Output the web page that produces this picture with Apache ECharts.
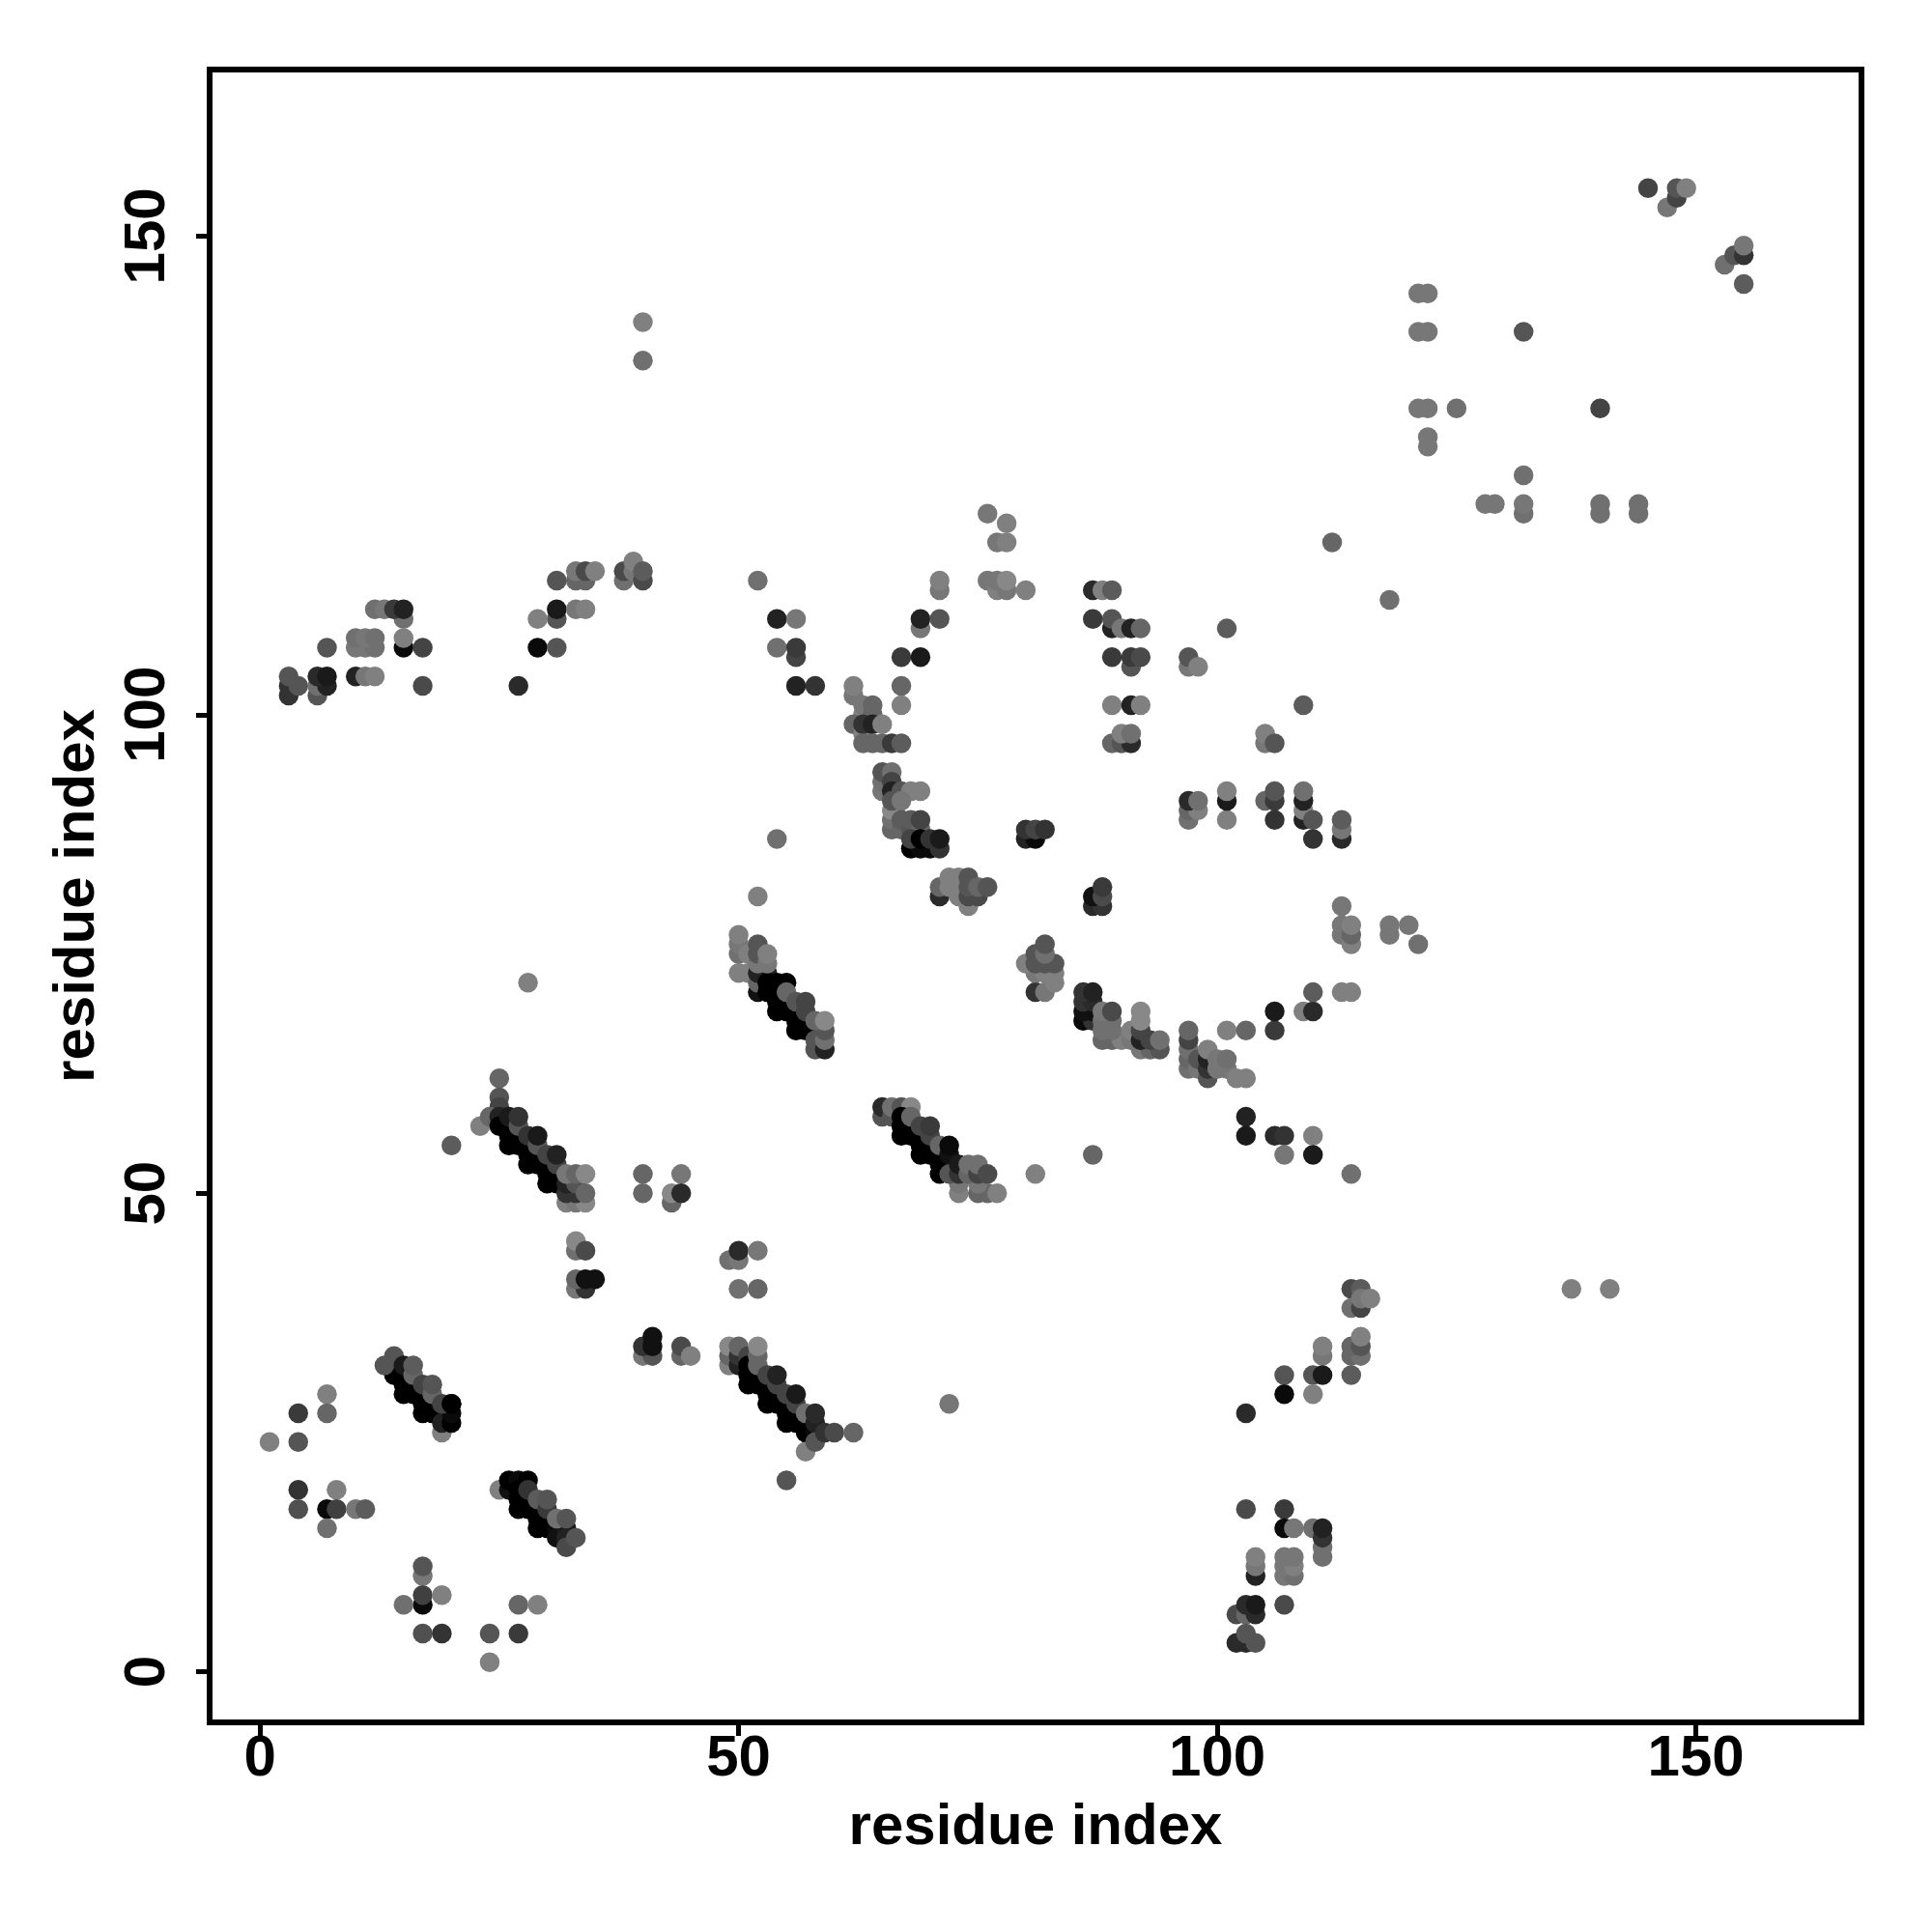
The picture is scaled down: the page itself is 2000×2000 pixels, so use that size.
<!DOCTYPE html>
<html><head><meta charset="utf-8">
<style>html,body{margin:0;padding:0;background:#fff}#c{width:2000px;height:2000px}</style>
<script src="https://cdn.jsdelivr.net/npm/echarts@6/dist/echarts.min.js"></script>
</head><body><div id="c"></div>
<script>
const tickValues = [0, 50, 100, 150];
const axisTitle = 'residue index';
// each contact: [residue i, residue j, grey level]
const lowerLeft = [[7,29,128],[4,27,58],[7,27,102],[1,24,128],[4,24,85],[4,19,51],[8,19,128],[4,17,80],[7,17,10],[8,17,64],[10,17,119],[11,17,92],[7,15,112],
[17,10,119],[17,11,85],[17,7,10],[17,8,64],[19,8,128],[15,7,112],[17,4,80],[19,4,51],[24,4,85],[27,4,58],[24,1,128],[27,7,102],[29,7,128]];
const band1 = [[19,25,128],[14,32,34],[14,31,0],[15,31,0],[15,30,0],[15,29,0],[16,30,0],[16,29,0],[17,29,0],[17,28,0],[17,27,0],[18,28,0],[18,27,0],[19,27,0],[19,26,34],[20,26,0],[20,27,10],[20,28,0],
[13,32,85],[14,33,85],[15,32,26],[16,31,102],[16,32,92],[17,30,68],[18,29,102],[18,30,85],[19,28,68],[20,28,0]];
const band2 = [[25,19,128],[26,19,17],[26,20,0],[27,20,10],[28,20,0],[27,19,0],[27,18,0],[27,17,0],[28,18,0],[28,17,0],[29,17,0],[29,16,0],[29,15,0],[30,16,0],[30,15,0],[31,15,10],[31,14,17],[32,15,26],[32,14,34],
[28,19,51],[29,18,92],[30,17,58],[30,18,85],[31,16,112],[32,13,74],[32,16,85],[33,14,85]];
const band3 = [[25,62,102],[25,60,85],[25,59,68],[23,57,128],[24,58,102],[25,58,34],[25,57,0],[26,57,0],[26,56,0],[26,55,0],[27,56,0],[27,55,0],[28,55,0],[28,54,0],[28,53,0],[29,54,0],[29,53,0],[30,53,0],[30,52,0],[30,51,0],[31,52,0],[31,51,0],
[26,58,26],[27,57,85],[27,58,51],[28,56,51],[29,55,85],[29,56,26],[30,54,68],[31,53,68],[31,54,34],[32,49,128],[33,49,119],[34,49,136],[32,50,51],[33,50,51],[32,51,34],[33,51,85],[32,52,119],[33,52,102],[34,52,136],[34,50,102]];
const midLeft = [[20,55,92],[40,52,102],[40,50,102],[44,52,119],[43,49,102],[43,50,136],[44,50,42],[33,44,112],[33,45,136],[34,44,74],[33,40,119],[34,40,51],[33,41,102],[34,41,17],[35,41,17],
[49,43,112],[50,43,119],[50,44,42],[52,44,119],[50,40,112],[52,40,102],[40,33,119],[41,33,85],[40,34,51],[41,34,17],[41,35,17],[44,33,102],[44,34,74],[45,33,128]];
const band4 = [[49,32,128],[49,33,102],[49,34,136],[50,32,34],[50,33,51],[50,34,102],[51,33,68],[51,32,0],[51,31,0],[51,30,0],[52,31,0],[52,30,0],[53,30,0],[53,29,0],[53,28,0],[54,29,0],[54,28,0],[55,28,0],[55,27,0],[55,26,0],[56,27,0],[56,26,0],[57,26,0],[57,25,0],[58,25,10],
[52,32,102],[52,33,102],[52,34,136],[53,31,68],[54,30,68],[54,31,34],[55,29,68],[56,28,68],[56,29,26],[57,27,112],[58,26,34],[58,27,42],[57,23,128],[58,24,85],[59,25,51],[60,25,74],[62,25,102],[55,20,85],[72,28,119]];
const band5 = [[52,81,128],[50,73,128],[50,75,112],[50,76,119],[50,77,128],[51,73,128],[51,75,128],[52,71,17],[52,72,102],[52,73,34],[53,73,34],[53,72,0],[54,72,0],[55,72,0],[53,71,0],[54,71,0],[54,70,0],[54,69,0],[55,70,0],[55,69,0],[56,69,0],[56,68,0],[56,67,0],[57,68,0],[57,67,0],[58,67,0],
[52,74,119],[52,75,85],[52,76,85],[53,74,119],[53,75,128],[55,71,102],[56,70,85],[57,69,68],[57,70,68],[58,65,85],[58,66,85],[59,65,34],[59,66,112],[59,67,85],[58,68,102],[59,68,136]];
const band6 = [[65,58,85],[65,59,42],[66,58,85],[66,59,112],[67,59,85],[68,59,136],[67,58,0],[67,57,0],[67,56,0],[68,57,0],[68,56,0],[69,56,0],[69,55,0],[69,54,0],[70,55,0],[70,54,0],[71,54,0],[71,53,0],[71,52,0],[72,53,0],
[68,58,102],[69,57,68],[70,56,68],[70,57,58],[71,55,102],[72,54,17],[72,55,10],[73,50,128],[73,51,119],[75,50,102],[76,50,102],[77,50,128],[75,51,119],[72,52,85],[73,52,51],[73,53,26],[74,52,102],[74,53,112],[75,52,68],[75,53,112],[76,52,74],[81,52,128],[87,54,102]];
const topLeft = [[3,102,51],[3,103,51],[3,104,85],[4,103,85],[6,102,85],[6,103,112],[7,103,34],[6,104,42],[7,104,26],[7,107,85],[10,104,34],[11,104,119],[12,104,128],
[10,107,119],[11,107,119],[12,107,112],[10,108,112],[11,108,119],[12,108,112],[15,110,112],[12,111,112],[13,111,119],[14,111,58],[15,111,34],[15,107,10],[15,108,128],[17,107,68],[17,103,74],
[27,103,42],[29,107,10],[31,107,85],[31,110,85],[29,110,128],[31,111,26],[33,111,119],[34,111,128],[31,114,85],[33,114,102],[34,114,102],[33,115,119],[34,115,74],[35,115,128],
[38,114,112],[38,115,74],[39,115,119],[39,116,128],[40,114,74],[40,115,92],[40,137,112],[40,141,128],[28,72,128]];
const upperMid = [[52,114,112],[54,107,112],[54,110,34],[56,110,119],[56,106,68],[56,107,58],[56,103,34],[58,103,51],[54,87,112],
[67,106,58],[69,106,26],[69,109,119],[69,110,34],[71,110,85],[71,113,119],[71,114,128],[67,103,102],[67,101,128],
[76,121,119],[78,120,128],[77,118,119],[78,118,128],[76,114,119],[77,113,128],[77,114,119],[78,113,119],[78,114,136],[80,113,128]];
const strand = [[62,102,119],[62,103,128],[63,100,128],[63,101,119],[64,100,102],[64,101,102],[62,99,102],[63,98,128],[63,99,51],[64,99,34],[65,99,128],[63,97,102],[64,97,102],[65,97,102],[66,97,58],[67,97,92],
[65,92,119],[65,93,112],[65,94,85],[66,94,112],[66,93,68],[66,92,34],[67,92,85],[68,92,128],[69,92,128],[66,88,102],[66,89,112],[66,90,136],[66,91,85],[67,91,119],[67,88,102],[67,89,92],[68,88,85],[68,89,92],[69,88,102],[69,89,68],
[68,86,0],[69,86,10],[70,86,10],[71,86,51],[68,87,68],[69,87,0],[70,87,51],[71,87,26],
[71,81,42],[71,82,102],[72,82,128],[72,83,128],[73,81,128],[73,82,128],[73,83,128],[74,80,128],[74,81,74],[75,81,74],[74,82,85],[74,83,85],[75,82,102],[76,82,85],
[80,87,34],[81,87,10],[80,88,51],[81,88,68],[82,88,51],[87,80,42],[88,80,51],[87,81,17],[88,81,74],[88,82,58]];
const middle = [[81,71,51],[82,71,119],[83,72,128],[81,73,119],[82,73,128],[83,73,128],[80,74,128],[81,74,85],[82,74,85],[83,74,85],[81,75,85],[82,75,112],[82,76,85],
[86,68,10],[87,68,51],[86,69,17],[87,69,17],[86,70,51],[87,70,42],[86,71,51],[87,71,34],
[88,66,102],[89,66,102],[90,66,128],[88,67,112],[89,67,112],[91,66,119],[91,67,128],[88,68,112],[89,68,112],[88,69,119],[89,69,74],
[92,65,119],[93,65,102],[94,65,85],[92,66,34],[93,66,68],[92,67,68],[92,68,136],[92,69,136],[94,66,112],
[97,63,112],[97,64,102],[97,65,112],[97,66,68],[97,67,102],[98,63,119],[98,64,85],[99,62,85],[99,63,51],[99,64,34],[99,65,128],[100,63,119],[101,63,119],[100,64,119],[101,64,112],[102,62,128],[103,62,128],
[101,67,128],[103,67,102],[106,67,58],[106,69,26],[109,69,128],[110,69,42],[110,71,92],[113,71,128],[114,71,128],
[113,80,119],[113,77,119],[113,78,119],[114,76,128],[114,77,102],[114,78,128],[118,77,119],[118,78,119],[120,78,119],[121,76,112],
[103,58,34],[103,56,26],[106,56,42],[107,56,51],[110,56,128],[107,54,119],[110,54,26],[114,52,112]];
const upperCluster = [[87,113,42],[88,113,128],[89,113,92],[87,110,58],[89,109,34],[89,110,85],[90,109,119],[91,109,34],[92,109,102],[89,106,58],[91,105,85],[91,106,58],[92,106,74],[97,105,119],[97,106,85],[98,105,128],[101,109,92],
[89,101,128],[91,101,34],[92,101,128],[89,97,102],[90,97,85],[91,97,42],[90,98,128],[91,98,112],[105,97,119],[105,98,128],[106,97,85],[109,101,92],[118,112,112],[112,118,102],
[97,89,112],[97,90,102],[98,90,128],[97,91,42],[98,91,112],[101,89,128],[101,91,26],[101,92,128],[105,91,102],[106,91,58],[106,92,85],[106,89,51],
[109,89,34],[109,90,128],[109,91,34],[109,92,112],[110,89,85],[110,87,51],[113,87,42],[113,88,119],[113,89,92]];
const upperRight = [[121,144,119],[122,144,119],[121,140,119],[122,140,119],[132,140,85],[121,132,119],[122,132,119],[125,132,112],[140,132,68],[122,128,119],[122,129,119],[132,125,112],
[128,122,119],[129,122,119],[132,121,112],[132,122,119],[140,121,112],[140,122,112],[144,121,112],[144,122,112],
[145,155,68],[147,153,119],[148,154,68],[148,155,85],[149,155,128],[153,147,112],[154,148,85],[155,148,51],[155,149,119],[155,145,92]];
const lowerRight = [[137,40,128],[141,40,128],[114,40,74],[115,40,92],[114,38,112],[115,38,68],[115,39,119],[116,39,128],
[114,33,102],[115,33,112],[114,34,102],[115,34,85],[115,35,128],[114,31,92],[111,33,119],[111,34,128],[110,31,85],[111,31,26],[107,31,85],[107,29,10],[110,29,128],[103,27,42],
[103,17,74],[107,17,58],[107,15,10],[108,15,119],[110,15,112],[111,12,112],[111,13,112],[111,14,51],[111,15,34],
[104,10,34],[104,11,119],[104,12,128],[107,10,119],[108,10,112],[107,11,119],[108,11,128],[107,12,119],[108,12,119],
[107,7,74],[102,6,74],[103,6,102],[104,6,42],[103,7,42],[104,7,26],[102,3,42],[103,3,42],[104,3,85],[103,4,85]];

const contactGroups = [lowerLeft, band1, band2, band3, midLeft, band4, band5, band6, topLeft, upperMid, strand, middle, upperCluster, upperRight, lowerRight];
const points = contactGroups.flat().map(p => ({
  value: [p[0], p[1]],
  itemStyle: { color: `rgb(${p[2]},${p[2]},${p[2]})`, opacity: 1 }
}));
const font = { fontFamily: '"Liberation Sans"', fontWeight: 'bold', fontSize: 60, color: '#000' };
const chart = echarts.init(document.getElementById('c'), null, { renderer: 'canvas' });
chart.setOption({
  animation: false,
  backgroundColor: '#fff',
  grid: { left: 217, top: 72, width: 1710, height: 1711, show: true, borderColor: '#000', borderWidth: 6, backgroundColor: 'transparent', containLabel: false },
  xAxis: {
    type: 'value', min: -5.26, max: 167.3,
    name: axisTitle, nameLocation: 'middle', nameGap: 79, nameTextStyle: font,
    axisLine: { show: false, onZero: false }, splitLine: { show: false },
    axisTick: { show: true, length: 14, lineStyle: { color: '#000', width: 5 }, customValues: tickValues },
    axisLabel: { ...font, margin: 8, customValues: tickValues, showMinLabel: true, showMaxLabel: true }
  },
  yAxis: {
    type: 'value', min: -5.29, max: 167.4,
    name: axisTitle, nameLocation: 'middle', nameGap: 107, nameTextStyle: font,
    axisLine: { show: false, onZero: false }, splitLine: { show: false },
    axisTick: { show: true, length: 14, lineStyle: { color: '#000', width: 5 }, customValues: tickValues },
    axisLabel: { ...font, margin: 34, rotate: 90, customValues: tickValues, showMinLabel: true, showMaxLabel: true }
  },
  series: [{ type: 'scatter', symbol: 'circle', symbolSize: 20.5, data: points, progressive: 0, large: false, silent: true, clip: true }]
});
</script></body></html>
